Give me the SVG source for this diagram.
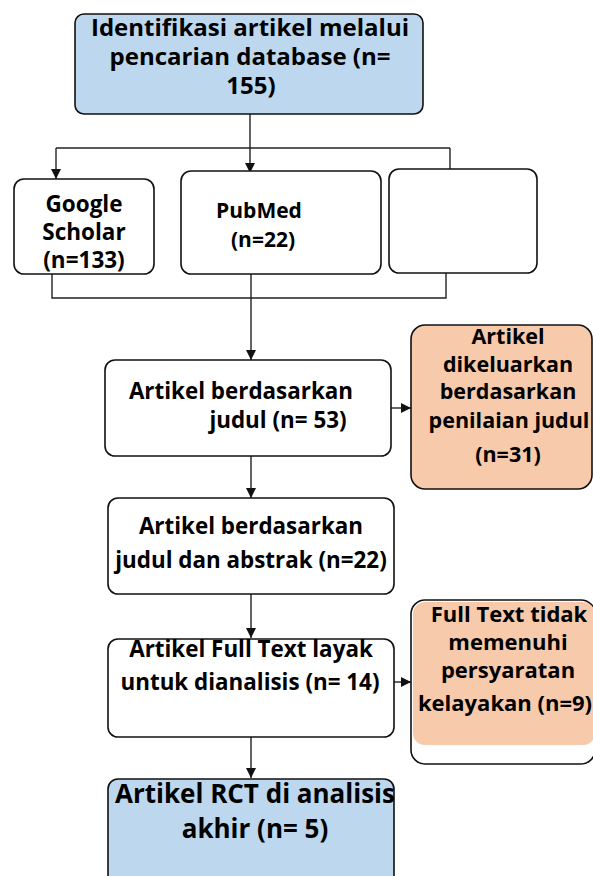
<svg xmlns="http://www.w3.org/2000/svg" width="593" height="876" viewBox="0 0 593 876">
  <defs>
    <style>
      .box { fill: #ffffff; stroke: #111111; stroke-width: 1.6; }
      .blue { fill: #bdd7ee; stroke: #111111; stroke-width: 1.6; }
      .peach { fill: #f7caac; stroke: #111111; stroke-width: 1.6; }
      .line { fill: none; stroke: #222222; stroke-width: 1.4; }
      text { font-family: "Open Sans", "Noto Sans", "Liberation Sans", sans-serif; font-weight: 700; fill: #000000; text-anchor: middle; font-variant-ligatures: none; }
      .top { font-size: 24px; }
      .src { font-size: 22.5px; }
      .pub { font-size: 21px; }
      .main { font-size: 22.4px; }
      .ex1 { font-size: 21.5px; }
      .ex2 { font-size: 22px; }
      .fin { font-size: 26px; }
    </style>
    <marker id="arrow" viewBox="0 0 10 10" refX="10" refY="5" markerWidth="10" markerHeight="10" markerUnits="userSpaceOnUse" orient="auto">
      <path d="M0,0 L10,5 L0,10 Z" fill="#111111"/>
    </marker>
  </defs>

  <!-- connectors -->
  <g id="connectors">
    <path class="line" d="M250,114 V173" marker-end="url(#arrow)"/>
    <path class="line" d="M56,148 H450"/>
    <path class="line" d="M56,148 V179" marker-end="url(#arrow)"/>
    <path class="line" d="M450,148 V179" marker-end="url(#arrow)"/>
    <path class="line" d="M52,274 V298 H446 V272"/>
    <path class="line" d="M251,274 V360" marker-end="url(#arrow)"/>
    <path class="line" d="M391,408 H411" marker-end="url(#arrow)"/>
    <path class="line" d="M251,456 V498" marker-end="url(#arrow)"/>
    <path class="line" d="M251,594 V638" marker-end="url(#arrow)"/>
    <path class="line" d="M394,682 H411" marker-end="url(#arrow)"/>
    <path class="line" d="M251,737 V778" marker-end="url(#arrow)"/>
  </g>

  <g id="identifikasi">
    <rect class="blue" x="75" y="14" width="348" height="100" rx="9"/>
    <text class="top" x="250" y="36">Identifikasi artikel melalui</text>
    <text class="top" x="250" y="65">pencarian database (n=</text>
    <text class="top" x="251" y="94">155)</text>
  </g>

  <g id="google-scholar">
    <rect class="box" x="14" y="179" width="140" height="95" rx="10"/>
    <text class="src" x="84" y="212">Google</text>
    <text class="src" x="84" y="240">Scholar</text>
    <text class="src" x="84" y="268">(n=133)</text>
  </g>

  <g id="pubmed">
    <rect class="box" x="181" y="171" width="200" height="103" rx="10"/>
    <text class="pub" x="259" y="218">PubMed</text>
    <text class="pub" x="263" y="247">(n=22)</text>
  </g>

  <g id="sumber-lain">
    <rect class="box" x="389" y="169" width="148" height="104" rx="10"/>
  </g>

  <g id="judul">
    <rect class="box" x="105" y="360" width="286" height="96" rx="10"/>
    <text class="main" x="241" y="399">Artikel berdasarkan</text>
    <text class="main" x="278" y="428">judul (n= 53)</text>
  </g>

  <g id="dikeluarkan">
    <rect class="peach" x="411" y="325" width="181" height="164" rx="14"/>
    <text class="ex1" x="508" y="344">Artikel</text>
    <text class="ex1" x="508" y="372">dikeluarkan</text>
    <text class="ex1" x="508" y="399">berdasarkan</text>
    <text class="ex1" x="509" y="428">penilaian judul</text>
    <text class="ex1" x="508" y="462">(n=31)</text>
  </g>

  <g id="abstrak">
    <rect class="box" x="108" y="498" width="286" height="96" rx="10"/>
    <text class="main" x="251" y="534">Artikel berdasarkan</text>
    <text class="main" x="251" y="568">judul dan abstrak (n=22)</text>
  </g>

  <g id="full-text">
    <rect class="box" x="108" y="639" width="286" height="98" rx="10"/>
    <text class="main" x="251" y="657">Artikel Full Text layak</text>
    <text class="main" x="250" y="690">untuk dianalisis (n= 14)</text>
  </g>

  <g id="tidak-layak">
    <rect class="box" x="411" y="600" width="184" height="164" rx="14"/>
    <rect x="413" y="602" width="182" height="143" rx="12" fill="#f7caac"/>
    <text class="ex2" x="509" y="622">Full Text tidak</text>
    <text class="ex2" x="508" y="650">memenuhi</text>
    <text class="ex2" x="508" y="678">persyaratan</text>
    <text class="ex2" x="505" y="711">kelayakan (n=9)</text>
  </g>

  <g id="rct">
    <rect class="blue" x="108" y="779" width="286" height="110" rx="10"/>
    <text class="fin" x="255" y="803">Artikel RCT di analisis</text>
    <text class="fin" x="255" y="838">akhir (n= 5)</text>
  </g>
</svg>
